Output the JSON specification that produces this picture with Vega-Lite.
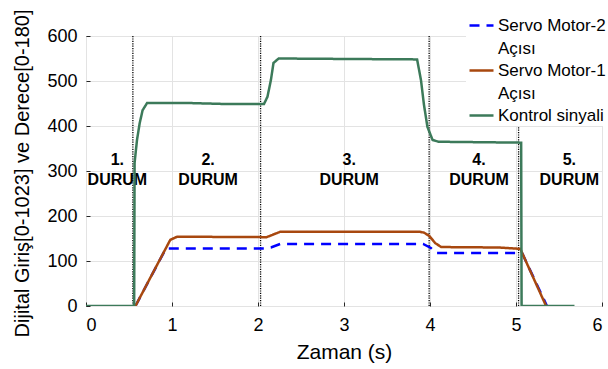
{
  "$schema": "https://vega.github.io/schema/vega-lite/v6.json",
  "width": 516,
  "height": 270,
  "autosize": {"type": "none"},
  "padding": {"left": 86, "top": 36, "right": 6, "bottom": 63},
  "background": "white",
  "config": {
    "font": "Liberation Sans",
    "view": {"stroke": "#262626", "strokeWidth": 1},
    "style": {"guide-label": {"lineHeight": 23}},
    "axis": {
      "labelFont": "Liberation Sans",
      "titleFont": "Liberation Sans",
      "labelColor": "#000",
      "titleColor": "#000",
      "titleFontWeight": "normal",
      "gridColor": "#e3e3e3",
      "gridWidth": 1,
      "domain": false,
      "tickColor": "#262626",
      "tickSize": -4,
      "labelFontSize": 18
    }
  },
  "datasets": {
    "lines": [
      {"series": "Servo Motor-2|Açısı", "t": 0.575, "v": 0},
      {"series": "Servo Motor-2|Açısı", "t": 0.93, "v": 128},
      {"series": "Servo Motor-2|Açısı", "t": 2.06, "v": 128},
      {"series": "Servo Motor-2|Açısı", "t": 2.15, "v": 130},
      {"series": "Servo Motor-2|Açısı", "t": 2.26, "v": 138},
      {"series": "Servo Motor-2|Açısı", "t": 3.92, "v": 138},
      {"series": "Servo Motor-2|Açısı", "t": 4.01, "v": 129},
      {"series": "Servo Motor-2|Açısı", "t": 4.07, "v": 118},
      {"series": "Servo Motor-2|Açısı", "t": 5.07, "v": 118},
      {"series": "Servo Motor-2|Açısı", "t": 5.36, "v": 0},

      {"series": "Servo Motor-1|Açısı", "t": 0.575, "v": 0},
      {"series": "Servo Motor-1|Açısı", "t": 0.98, "v": 147},
      {"series": "Servo Motor-1|Açısı", "t": 1.06, "v": 154},
      {"series": "Servo Motor-1|Açısı", "t": 2.1, "v": 153},
      {"series": "Servo Motor-1|Açısı", "t": 2.14, "v": 156},
      {"series": "Servo Motor-1|Açısı", "t": 2.26, "v": 165},
      {"series": "Servo Motor-1|Açısı", "t": 3.88, "v": 165},
      {"series": "Servo Motor-1|Açısı", "t": 3.93, "v": 163},
      {"series": "Servo Motor-1|Açısı", "t": 3.99, "v": 156},
      {"series": "Servo Motor-1|Açısı", "t": 4.06, "v": 140},
      {"series": "Servo Motor-1|Açısı", "t": 4.13, "v": 131},
      {"series": "Servo Motor-1|Açısı", "t": 4.8, "v": 130},
      {"series": "Servo Motor-1|Açısı", "t": 5.05, "v": 127},
      {"series": "Servo Motor-1|Açısı", "t": 5.35, "v": 0},

      {"series": "Kontrol sinyali", "t": 0, "v": 0},
      {"series": "Kontrol sinyali", "t": 0.56, "v": 0},
      {"series": "Kontrol sinyali", "t": 0.565, "v": 318},
      {"series": "Kontrol sinyali", "t": 0.593, "v": 369},
      {"series": "Kontrol sinyali", "t": 0.624, "v": 406},
      {"series": "Kontrol sinyali", "t": 0.658, "v": 435},
      {"series": "Kontrol sinyali", "t": 0.71, "v": 451},
      {"series": "Kontrol sinyali", "t": 1.2, "v": 451},
      {"series": "Kontrol sinyali", "t": 1.6, "v": 449},
      {"series": "Kontrol sinyali", "t": 2.07, "v": 449},
      {"series": "Kontrol sinyali", "t": 2.11, "v": 465},
      {"series": "Kontrol sinyali", "t": 2.15, "v": 502},
      {"series": "Kontrol sinyali", "t": 2.18, "v": 540},
      {"series": "Kontrol sinyali", "t": 2.24, "v": 550},
      {"series": "Kontrol sinyali", "t": 3.0, "v": 549},
      {"series": "Kontrol sinyali", "t": 3.85, "v": 548},
      {"series": "Kontrol sinyali", "t": 3.895, "v": 502},
      {"series": "Kontrol sinyali", "t": 3.93, "v": 447},
      {"series": "Kontrol sinyali", "t": 3.97, "v": 398},
      {"series": "Kontrol sinyali", "t": 4.03, "v": 369},
      {"series": "Kontrol sinyali", "t": 4.1, "v": 365},
      {"series": "Kontrol sinyali", "t": 5.06, "v": 363},
      {"series": "Kontrol sinyali", "t": 5.065, "v": 0},
      {"series": "Kontrol sinyali", "t": 5.68, "v": 0}
    ],
    "cuts": [
      {"t": 0.545},
      {"t": 2.03},
      {"t": 3.99},
      {"t": 5.03}
    ],
    "labels": [
      {"t": 0.365, "v": 324, "label": "1.\nDURUM"},
      {"t": 1.42, "v": 324, "label": "2.\nDURUM"},
      {"t": 3.06, "v": 324, "label": "3.\nDURUM"},
      {"t": 4.57, "v": 324, "label": "4.\nDURUM"},
      {"t": 5.62, "v": 324, "label": "5.\nDURUM"}
    ]
  },
  "layer": [
    {
      "data": {"name": "labels"},
      "mark": {"type": "text", "lineBreak": "\n", "fontSize": 16, "fontWeight": "bold", "font": "Liberation Sans", "lineHeight": 20, "color": "#000", "baseline": "middle", "align": "center"},
      "encoding": {
        "x": {"field": "t", "type": "quantitative"},
        "y": {"field": "v", "type": "quantitative"},
        "text": {"field": "label"}
      }
    },
    {
      "data": {"name": "cuts"},
      "mark": {"type": "rule", "color": "#000", "strokeDash": [1.2, 1.2], "strokeWidth": 1.3},
      "encoding": {
        "x": {"field": "t", "type": "quantitative"}
      }
    },
    {
      "data": {"name": "lines"},
      "mark": {"type": "line", "strokeWidth": 2.5, "clip": true},
      "encoding": {
        "x": {
          "field": "t", "type": "quantitative",
          "scale": {"domain": [0, 6], "nice": false},
          "axis": {"values": [0, 1, 2, 3, 4, 5, 6], "format": "d", "grid": true, "labelPadding": 14, "title": "Zaman (s)", "titleFontSize": 21, "titleY": 46, "titleBaseline": "middle"}
        },
        "y": {
          "field": "v", "type": "quantitative",
          "scale": {"domain": [0, 600], "nice": false},
          "axis": {"values": [0, 100, 200, 300, 400, 500, 600], "format": "d", "grid": true, "labelPadding": 13, "title": "Dijital Giriş[0-1023] ve Derece[0-180]", "titleFontSize": 20, "titleX": -64, "titleY": 137, "titleBaseline": "middle", "titleAngle": -90, "titleAlign": "center"}
        },
        "color": {
          "field": "series", "type": "nominal",
          "scale": {"domain": ["Servo Motor-2|Açısı", "Servo Motor-1|Açısı", "Kontrol sinyali"], "range": ["#0000FF", "#A8480F", "#3C7A5A"]},
          "legend": {
            "orient": "none", "legendX": 380, "legendY": -26, "title": null,
            "fillColor": "white", "padding": 2,
            "labelExpr": "split(datum.label, '|')",
            "labelFontSize": 17, "labelFont": "Liberation Sans", "labelColor": "#000", "labelLimit": 400,
            "labelOffset": 3, "rowPadding": 0,
            "symbolType": "stroke", "symbolSize": 576, "symbolStrokeWidth": 2.5
          }
        },
        "strokeDash": {
          "field": "series", "type": "nominal",
          "scale": {"domain": ["Servo Motor-2|Açısı", "Servo Motor-1|Açısı", "Kontrol sinyali"], "range": [[10, 7], [1, 0], [1, 0]]},
          "legend": null
        },
        "order": {"field": "t", "type": "quantitative"}
      }
    }
  ]
}
